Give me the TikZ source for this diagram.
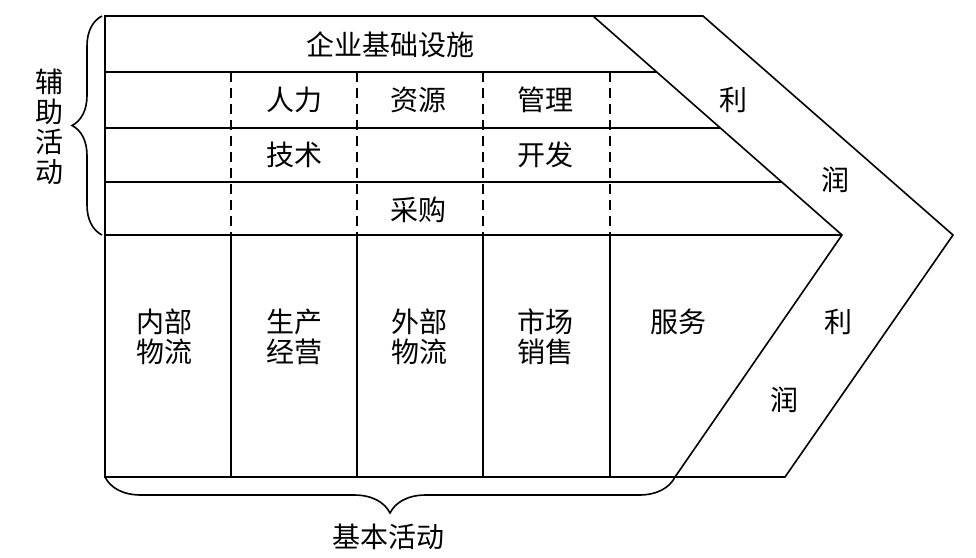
\documentclass[tikz,border=0pt]{standalone}
\usepackage{fontspec}
\newfontfamily\cjk{Noto Sans CJK SC}
\usetikzlibrary{decorations.pathreplacing}
\begin{document}
\begin{tikzpicture}[x=1pt,y=-1pt,line width=1.6pt,
  lbl/.style={font=\cjk\fontsize{28}{30}\selectfont,inner sep=0pt,align=center},
  dsh/.style={dash pattern=on 10pt off 6pt},
  brc/.style={line width=1.6pt,decorate,decoration={brace,amplitude=#1}}]
\useasboundingbox (0,0) rectangle (976,557);
% coordinates
\coordinate (TL) at (105,16);
\coordinate (TR) at (703,16);
\coordinate (OP) at (953,235);
\coordinate (OB) at (785,477);
\coordinate (BL) at (105,477);
\coordinate (IT) at (593,16);
\coordinate (IP) at (842,235);
\coordinate (IB) at (675,477);
% outline
\draw (TL) -- (TR) -- (OP) -- (OB) -- (BL) -- cycle;
\draw (IT) -- (IP) -- (IB);
% rows
\draw (105,72) -- (657,72);
\draw (105,128) -- (720,128);
\draw (105,182) -- (782,182);
\draw (105,235) -- (IP);
% columns
\foreach \x in {231,357,483,610}{
  \draw[dsh] (\x,72) -- (\x,235);
  \draw (\x,235) -- (\x,477);
}
% braces
\draw[brc=30pt] (102,235) -- (102,16);
\draw[brc=36pt] (IB) -- (BL);
% labels
\node[lbl] (infra) at (390,45) {企业基础设施};
\node[lbl] (hr1) at (294,100) {人力};
\node[lbl] (hr2) at (418,100) {资源};
\node[lbl] (hr3) at (545,100) {管理};
\node[lbl] (td1) at (294,155) {技术};
\node[lbl] (td2) at (545,155) {开发};
\node[lbl] (proc) at (418,210) {采购};
\node[lbl] (li1) at (733,100) {利};
\node[lbl] (ru1) at (835,180) {润};
\node[lbl] (inl) at (164,337) {内部\\物流};
\node[lbl] (ops) at (294,337) {生产\\经营};
\node[lbl] (outl) at (419,337) {外部\\物流};
\node[lbl] (mkt) at (545,337) {市场\\销售};
\node[lbl] (svc) at (678,322) {服务};
\node[lbl] (li2) at (838,322) {利};
\node[lbl] (ru2) at (784,400) {润};
\node[lbl] (supp) at (49,127) {辅\\助\\活\\动};
\node[lbl] (prim) at (388,537) {基本活动};
\end{tikzpicture}
\end{document}
